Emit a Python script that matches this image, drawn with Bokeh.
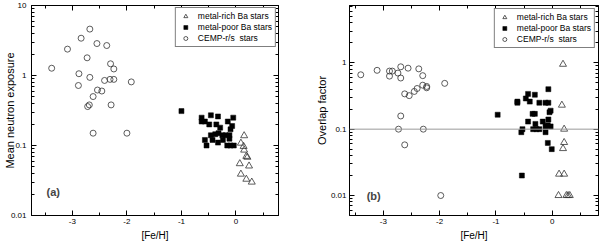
from bokeh.plotting import figure
from bokeh.layouts import row
from bokeh.models import (Range1d, FixedTicker, CustomJSTickFormatter, LinearAxis,
                          LogAxis, Span, Label)
from bokeh.embed import file_html
from bokeh.resources import INLINE

FONT = "Liberation Sans"

# ---------------- data: panel (a) ----------------
a_rich_feh = [0.15, 0.09, 0.14, 0.15, 0.19, 0.21, 0.07, 0.24, 0.09, 0.19, 0.29]
a_rich_tau = [0.138, 0.108, 0.097, 0.086, 0.070, 0.068, 0.055, 0.051, 0.039, 0.033, 0.030]

a_poor_feh = [-1.00, -0.63, -0.63, -0.57, -0.46, -0.33, -0.49, -0.36, -0.15, -0.05,
              -0.07, -0.10, -0.29, -0.32, -0.46, -0.38, -0.19, -0.12, -0.57, -0.54,
              -0.43, -0.33, -0.24, -0.16, -0.10, -0.04, -0.12, -0.25]
a_poor_tau = [0.31, 0.25, 0.22, 0.22, 0.27, 0.26, 0.20, 0.20, 0.22, 0.25,
              0.19, 0.17, 0.18, 0.15, 0.14, 0.145, 0.14, 0.14, 0.12, 0.10,
              0.12, 0.11, 0.12, 0.10, 0.10, 0.10, 0.125, 0.14]

a_cemp_feh = [-3.38, -3.09, -2.84, -2.68, -2.55, -2.37, -2.73, -2.30, -2.24, -2.88,
              -2.68, -2.89, -2.41, -2.31, -2.24, -1.92, -2.54, -2.46, -2.62, -2.69,
              -2.72, -2.29, -2.62, -2.00]
a_cemp_tau = [1.27, 2.38, 3.41, 4.6, 2.86, 2.68, 1.79, 1.47, 1.24, 1.06,
              0.94, 0.72, 0.85, 0.88, 0.88, 0.81, 0.62, 0.60, 0.50, 0.38,
              0.36, 0.38, 0.15, 0.15]

# ---------------- data: panel (b) ----------------
b_rich_feh = [0.19, 0.17, 0.21, 0.21, 0.19, 0.12, 0.21, 0.11, 0.25, 0.28, 0.31]
b_rich_ov = [0.95, 0.23, 0.10, 0.063, 0.051, 0.021, 0.021, 0.010, 0.010, 0.010, 0.010]

b_poor_feh = [-0.97, -0.62, -0.62, -0.47, -0.43, -0.40, -0.31, -0.23, -0.12, -0.07,
              -0.07, -0.03, -0.05, -0.35, -0.31, -0.43, -0.30, -0.17, -0.07, -0.53,
              -0.55, -0.34, -0.28, -0.23, -0.12, -0.08, -0.03, -0.12, -0.08, -0.01,
              -0.54]
b_poor_ov = [0.165, 0.26, 0.25, 0.29, 0.34, 0.26, 0.33, 0.25, 0.25, 0.25,
             0.40, 0.19, 0.18, 0.17, 0.17, 0.13, 0.12, 0.13, 0.14, 0.10,
             0.09, 0.10, 0.10, 0.10, 0.11, 0.115, 0.11, 0.09, 0.062, 0.05,
             0.02]

b_cemp_feh = [-3.40, -3.11, -2.89, -2.84, -2.89, -2.74, -2.69, -2.69, -2.56, -2.37,
              -2.30, -2.62, -2.54, -2.45, -2.40, -2.30, -2.23, -2.23, -1.91, -2.69,
              -2.73, -2.29, -2.62, -1.98]
b_cemp_ov = [0.66, 0.77, 0.75, 0.75, 0.63, 0.70, 0.87, 0.59, 0.83, 0.81,
             0.64, 0.34, 0.32, 0.37, 0.41, 0.46, 0.44, 0.42, 0.49, 0.158,
             0.10, 0.10, 0.058, 0.010]

# ticks / labels
x_major = [-3, -2, -1, 0]
x_minor = [-3.5, -2.5, -1.5, -0.5, 0.5]
a_y_major = [0.01, 0.1, 1, 10]
b_y_major = [0.01, 0.1, 1]
overlap_ref = 0.1
x_title = "[Fe/H]"

series_names = ["metal-rich Ba stars", "metal-poor Ba stars", "CEMP-r/s  stars"]


def log_minor(lo_exp, hi_exp):
    out = []
    for e in range(lo_exp, hi_exp):
        for k in range(2, 10):
            out.append(round(k * 10 ** e, 6))
    return out


def style_axis(ax, labels=True):
    ax.axis_line_color = "black"
    ax.major_tick_line_color = "black"
    ax.minor_tick_line_color = "black"
    ax.major_tick_in = 5
    ax.major_tick_out = 0
    ax.minor_tick_in = 3
    ax.minor_tick_out = 0
    ax.major_label_text_font = FONT
    ax.major_label_text_font_size = "8px"
    ax.major_label_text_color = "black"
    ax.axis_label_text_font = FONT
    ax.axis_label_text_font_style = "normal"
    ax.axis_label_text_color = "black"
    if labels:
        ax.formatter = CustomJSTickFormatter(code="return tick.toString();")
        ax.major_label_standoff = 3
    else:
        ax.formatter = CustomJSTickFormatter(code="return '';")
        ax.major_label_standoff = 0


def make_panel(width, border_left, border_right, xr, yr, y_major, y_minor, ylabel,
               ytick_standoff, ylabel_standoff, rich, poor, cemp, tag, tag_xy,
               legend_margin, ref=None):
    p = figure(width=width, height=244, output_backend="svg", toolbar_location=None,
               x_range=Range1d(*xr), y_range=Range1d(*yr), y_axis_type="log",
               min_border_left=border_left, min_border_right=border_right,
               min_border_top=5, min_border_bottom=29)
    p.grid.visible = False
    p.outline_line_color = "black"
    p.outline_line_width = 1
    p.background_fill_color = "white"
    p.border_fill_color = "white"

    xt = FixedTicker(ticks=x_major, minor_ticks=x_minor)
    yt = FixedTicker(ticks=y_major, minor_ticks=y_minor)

    xa = p.xaxis[0]
    xa.ticker = xt
    style_axis(xa)
    xa.major_label_standoff = 3
    xa.axis_label = x_title
    xa.axis_label_text_font_size = "10px"
    xa.axis_label_standoff = 3

    ya = p.yaxis[0]
    ya.ticker = yt
    style_axis(ya)
    ya.major_label_standoff = ytick_standoff
    ya.axis_label = ylabel
    ya.axis_label_text_font_size = "11px"
    ya.axis_label_standoff = ylabel_standoff

    top = LinearAxis(ticker=xt)
    style_axis(top, labels=False)
    p.add_layout(top, "above")
    right = LogAxis(ticker=yt)
    style_axis(right, labels=False)
    p.add_layout(right, "right")

    if ref is not None:
        p.add_layout(Span(location=ref, dimension="width", line_color="#999999",
                          line_width=1))

    p.scatter(rich[0], rich[1], marker="triangle", size=7, fill_color=None,
              line_color="#333333", line_width=0.8, legend_label=series_names[0])
    p.scatter(poor[0], poor[1], marker="square", size=5, fill_color="black",
              line_color="black", line_width=0.5, legend_label=series_names[1])
    p.scatter(cemp[0], cemp[1], marker="circle", size=6, fill_color=None,
              line_color="#333333", line_width=0.8, legend_label=series_names[2])

    lg = p.legend[0]
    lg.location = "top_right"
    lg.margin = legend_margin
    lg.padding = 3
    lg.spacing = 1
    lg.glyph_width = 13
    lg.glyph_height = 10
    lg.label_height = 10
    lg.label_standoff = 6
    lg.label_text_font = FONT
    lg.label_text_font_size = "8.5px"
    lg.label_text_color = "black"
    lg.border_line_color = "black"
    lg.border_line_width = 1
    lg.background_fill_color = "white"
    lg.background_fill_alpha = 1

    p.add_layout(Label(x=tag_xy[0], y=tag_xy[1], text=tag, text_font=FONT,
                       text_font_style="bold", text_font_size="11px",
                       text_align="center", text_baseline="middle"))
    return p


pa = make_panel(300, 30, 22, (-3.75, 0.78), (0.01, 10), a_y_major, log_minor(-2, 1),
                "Mean neutron exposure", 5, -8,
                (a_rich_feh, a_rich_tau), (a_poor_feh, a_poor_tau),
                (a_cemp_feh, a_cemp_tau), "(a)", (-3.35, 0.022), 2)
pb = make_panel(300, 49, 2, (-3.6, 0.82), (0.005, 7.3), b_y_major,
                [0.006, 0.007, 0.008, 0.009] + log_minor(-2, 0) + [2, 3, 4, 5, 6, 7],
                "Overlap factor", 3, 0,
                (b_rich_feh, b_rich_ov), (b_poor_feh, b_poor_ov),
                (b_cemp_feh, b_cemp_ov), "(b)", (-3.17, 0.01), 3, ref=overlap_ref)

layout = row(pa, pb, spacing=0)
open("out.html", "w").write(file_html(layout, INLINE))
